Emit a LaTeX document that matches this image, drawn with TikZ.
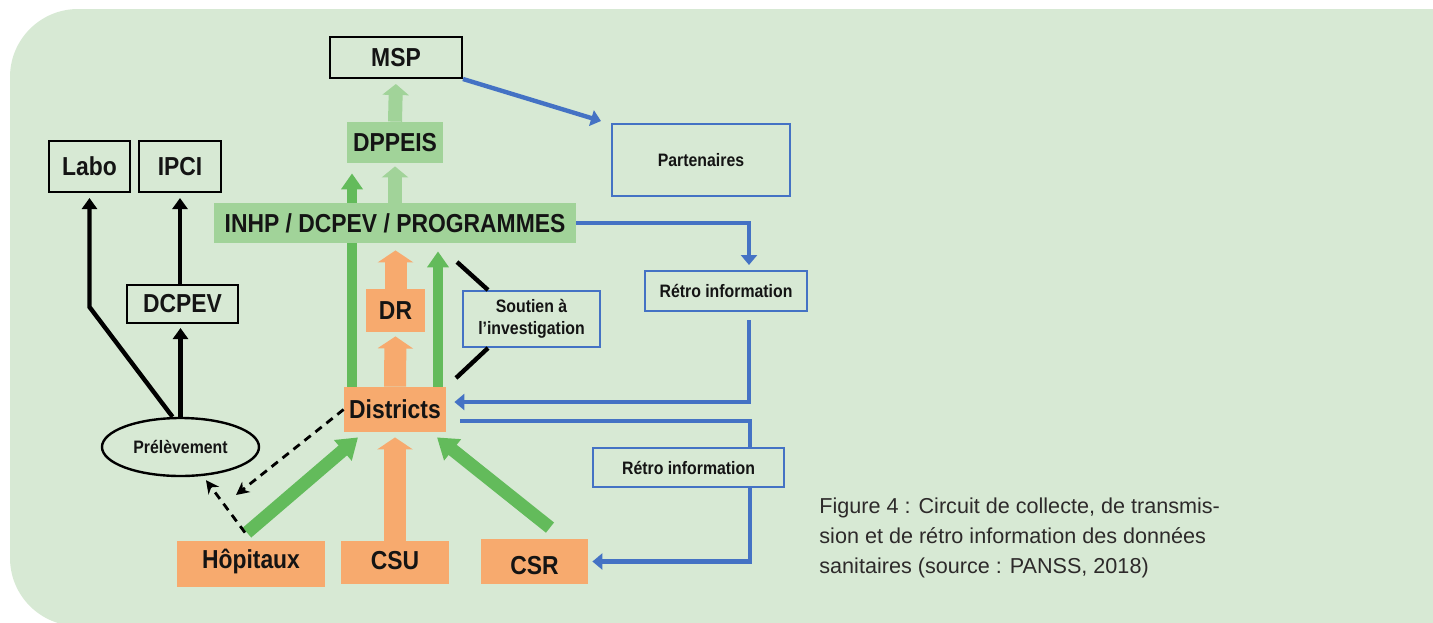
\documentclass[tikz,border=0pt]{standalone}
\usepackage{fontspec}
\setmainfont{Liberation Sans}[FakeStretch=0.88]
\newfontfamily\capfont{Liberation Sans}
\usetikzlibrary{shapes.geometric,arrows.meta}
\definecolor{panelgreen}{RGB}{215,233,212}
\definecolor{boxgreen}{RGB}{161,211,153}
\definecolor{arrowgreen}{RGB}{99,187,91}
\definecolor{boxorange}{RGB}{247,170,110}
\definecolor{lineblue}{RGB}{68,114,196}
\definecolor{textblack}{RGB}{20,20,20}
\definecolor{captext}{RGB}{45,42,42}
\pgfdeclarelayer{behind}
\pgfsetlayers{behind,main}

\begin{document}
\begin{tikzpicture}[x=0.5pt,y=-0.5pt,
    box/.style={rectangle,inner sep=0pt,text=textblack,font=\fontsize{13}{15}\selectfont\bfseries},
    blackbox/.style={box,draw=black,line width=1pt},
    greenbox/.style={box,fill=boxgreen},
    orangebox/.style={box,fill=boxorange},
    bluebox/.style={box,draw=lineblue,line width=1pt,align=center,font=\fontsize{9}{11}\selectfont\bfseries},
    lgarrow/.style={draw=boxgreen,line width=7pt,-{Triangle[width=13pt,length=5.5pt]}},
    orarrow/.style={draw=boxorange,line width=11pt,-{Triangle[width=17.5pt,length=6pt]}},
    grarrow/.style={draw=arrowgreen,line width=5pt,-{Triangle[width=10.5pt,length=8pt]}},
    grfat/.style={draw=arrowgreen,line width=6.5pt,-{Triangle[width=13pt,length=10pt]}},
    bkarrow/.style={line width=2.2pt,-{Triangle[width=7.5pt,length=5.5pt]}},
    dasharrow/.style={line width=1.4pt,dash pattern=on 4pt off 3pt,-{Stealth[width=6.5pt,length=6.5pt]}},
    bluearrow/.style={draw=lineblue,line width=2.2pt,-{Triangle[width=8pt,length=5pt]}}]

    \useasboundingbox (0,0) rectangle (1433,622);
    \begin{pgfonlayer}{behind}
        \fill[panelgreen,rounded corners=34pt] (10,9) rectangle (1600,626);
    \end{pgfonlayer}

    \node[blackbox,minimum width=66pt,minimum height=20.5pt] (msp) at (396,57.5) {MSP};
    \node[greenbox,minimum width=48pt,minimum height=20.5pt] (dppeis) at (395,142.5) {DPPEIS};
    \node[greenbox,minimum width=181pt,minimum height=20pt] (inhp) at (395,223) {INHP / DCPEV / PROGRAMMES};
    \node[blackbox,minimum width=40.5pt,minimum height=25.5pt] (labo) at (89.5,166.5) {Labo};
    \node[blackbox,minimum width=41pt,minimum height=25.5pt] (ipci) at (180,166.5) {IPCI};
    \node[blackbox,minimum width=55.5pt,minimum height=19pt] (dcpev) at (182.5,304) {DCPEV};
    \node[ellipse,draw=black,line width=1.2pt,inner sep=0pt,minimum width=78.5pt,minimum height=29pt,
          text=textblack,font=\fontsize{9}{11}\selectfont\bfseries] (prel) at (180.5,447) {Prélèvement};
    \node[orangebox,minimum width=29.5pt,minimum height=21.5pt] (dr) at (395.5,310.5) {DR};
    \node[orangebox,minimum width=51pt,minimum height=22.5pt] (dist) at (395,409.5) {Districts};
    \node[orangebox,minimum width=74pt,minimum height=23pt] (hop) at (251,564) {\raisebox{1.5pt}[\height][\depth]{Hôpitaux}};
    \node[orangebox,minimum width=54pt,minimum height=21.5pt] (csu) at (395,562.5) {\raisebox{1pt}[\height][\depth]{CSU}};
    \node[orangebox,minimum width=53.5pt,minimum height=22.5pt] (csr) at (534.5,561.5) {\raisebox{-2pt}[\height][\depth]{CSR}};
    \node[bluebox,minimum width=89pt,minimum height=36pt] (part) at (701,160) {Partenaires};
    \node[bluebox,minimum width=68.5pt,minimum height=28pt] (soutien) at (531.5,319) {Soutien à\\l’investigation};
    \node[bluebox,minimum width=81pt,minimum height=20pt] (retroA) at (726,291) {Rétro information};
    \node[bluebox,minimum width=95.5pt,minimum height=19.5pt] (retroB) at (688.5,467.5) {Rétro information};
    \node[anchor=north west,align=left,inner sep=0pt,text=captext,font=\capfont\fontsize{10.8}{15}\selectfont]
        (legend) at (819,497) {Figure 4 : Circuit de collecte, de transmis-\\sion et de rétro information des données\\sanitaires (source : PANSS, 2018)};

    \begin{pgfonlayer}{behind}
        \draw[lgarrow,shorten >=2.5pt] (dppeis.north) -- (msp.south);
        \draw[lgarrow,shorten >=1.5pt] (inhp.north) -- (dppeis.south);
        \draw[grarrow,shorten >=5pt] ([xshift=-21.5pt]dist.north) -- ([xshift=-21.5pt]dist.north |- dppeis.south);
        \draw[grarrow,shorten >=4pt] ([xshift=21.5pt]dist.north) -- ([xshift=21.5pt]dist.north |- inhp.south);
        \draw[orarrow,shorten >=3.5pt] (dr.north) -- (dr.north |- inhp.south);
        \draw[orarrow,shorten >=2pt] (dist.north) -- (dr.south);
        \draw[orarrow,shorten >=2.5pt] (csu.north) -- (dist.south);
        \draw[grfat] ([xshift=-2pt,yshift=4pt]hop.north) -- ([xshift=-18.5pt,yshift=-2.5pt]dist.south);
        \draw[grfat] ([xshift=7.75pt,yshift=5.5pt]csr.north) -- ([xshift=21pt,yshift=-2.5pt]dist.south);
    \end{pgfonlayer}

    \coordinate (dtip) at (236,495);
    \draw[dasharrow] (dist.west) -- (dtip);
    \draw[dasharrow] ([xshift=-3pt,yshift=4pt]hop.north) -- ([xshift=12.75pt,yshift=-1.5pt]prel.south);

    \draw[bkarrow,shorten >=2pt] (prel.north) -- (prel.north |- dcpev.south);
    \draw[bkarrow,shorten >=2.5pt] (ipci.south |- dcpev.north) -- (ipci.south);
    \draw[bkarrow,shorten >=2.5pt] ([xshift=-4pt]prel.north) -- (labo.south |- 0,307) -- (labo.south);
    \draw[line width=2.2pt] ([xshift=13pt]soutien.north west) -- ++(-31,-28);
    \draw[line width=2.2pt] ([xshift=13pt]soutien.south west) -- ++(-32,30);

    \draw[bluearrow] (msp.south east) -- ([xshift=-5pt,yshift=1pt]part.north west);
    \draw[bluearrow,shorten >=2.5pt] (inhp.east) -| ([xshift=11.5pt]retroA.north);
    \draw[bluearrow,shorten <=4pt,shorten >=4pt] ([xshift=11.5pt]retroA.south) |- ([yshift=3.75pt]dist.east);
    \draw[draw=lineblue,line width=2.2pt,shorten <=7pt] ([yshift=-5.75pt]dist.east) -| ([xshift=30.75pt]retroB.north);
    \draw[bluearrow,shorten >=2pt] ([xshift=30.75pt]retroB.south) |- (csr.east);

\end{tikzpicture}
\end{document}
